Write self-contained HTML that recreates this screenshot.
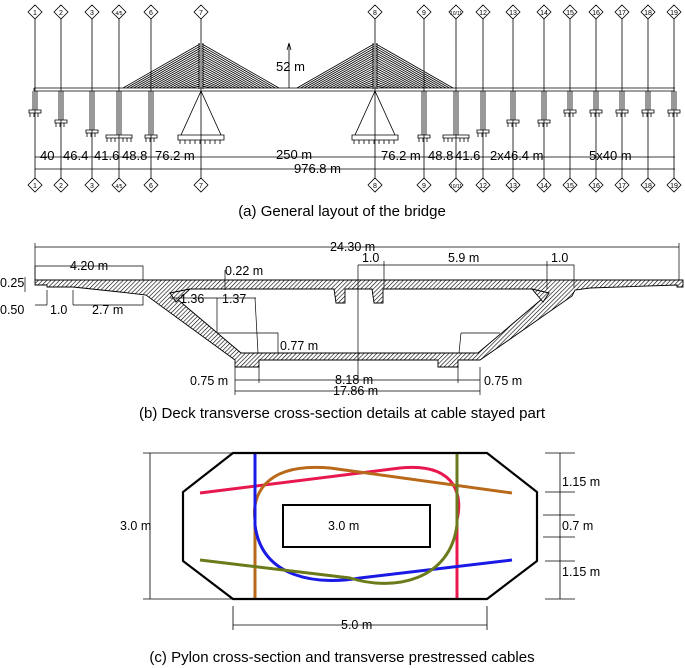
<!DOCTYPE html>
<html><head><meta charset="utf-8"><style>
body{margin:0;background:#fff}
svg{display:block;font-family:"Liberation Sans",sans-serif}
</style></head><body>
<svg id="s" width="685" height="668" viewBox="0 0 685 668" xmlns="http://www.w3.org/2000/svg">
<defs>
<pattern id="h" width="3" height="3" patternUnits="userSpaceOnUse" patternTransform="rotate(45)">
<rect width="3" height="3" fill="#fff"/><line x1="0" y1="0" x2="0" y2="3" stroke="#000" stroke-width="1.2"/></pattern>
</defs>
<g id="a" stroke="#000" fill="none" stroke-width="1"></g>
<g font-size="7" text-anchor="middle" id="dl">
<text x="35" y="15">1</text><text x="61" y="15">2</text><text x="92" y="15">3</text><text x="119" y="15" font-size="5">4/5</text><text x="151" y="15">6</text><text x="201" y="15">7</text><text x="375" y="15">8</text><text x="424" y="15">9</text><text x="456" y="15" font-size="5">10/11</text><text x="483" y="15">12</text><text x="513" y="15">13</text><text x="544" y="15">14</text><text x="570" y="15">15</text><text x="596" y="15">16</text><text x="622" y="15">17</text><text x="648" y="15">18</text><text x="674" y="15">19</text>
<text x="35" y="188">1</text><text x="61" y="188">2</text><text x="92" y="188">3</text><text x="119" y="188" font-size="5">4/5</text><text x="151" y="188">6</text><text x="201" y="188">7</text><text x="375" y="188">8</text><text x="424" y="188">9</text><text x="456" y="188" font-size="5">10/11</text><text x="483" y="188">12</text><text x="513" y="188">13</text><text x="544" y="188">14</text><text x="570" y="188">15</text><text x="596" y="188">16</text><text x="622" y="188">17</text><text x="648" y="188">18</text><text x="674" y="188">19</text>
</g>
<g font-size="13" fill="#000">
<text x="276" y="71">52 m</text>
<text x="40" y="160">40</text><text x="63" y="160">46.4</text><text x="94" y="160">41.6</text><text x="122" y="160">48.8</text><text x="155" y="160">76.2 m</text>
<text x="276" y="159">250 m</text>
<text x="381" y="160">76.2 m</text><text x="428" y="160">48.8</text><text x="455" y="160">41.6</text><text x="490" y="160">2x46.4 m</text><text x="589" y="160">5x40 m</text>
<text x="294" y="173">976.8 m</text>
</g>
<text x="342" y="216" font-size="15" text-anchor="middle">(a) General layout of the bridge</text>

<!-- (b) -->
<g stroke="#000" stroke-width="0.9">
<path d="M35,280 L683,280 L683,287 L677,287 L677,285 L590,288 L575,290 L572,296 L480,360 L458,360 L458,367 L438,367 L438,360 L280,360 L259,360 L259,367 L235,367 L235,360 L146,295 L120,292 L73,287 L47,287 L47,285 L35,285 Z" fill="url(#h)"/>
<path d="M170,293 L241,353 L478,353 L549,293 L532,289 L383,289 L383,303 L374,303 L372,289 L345,289 L345,303 L336,303 L334,289 L190,289 Z" fill="#fff"/>
<path d="M170,293 L176,302 L190,289 Z" fill="url(#h)"/>
<path d="M549,293 L543,302 L532,289 Z" fill="url(#h)"/>
</g>
<g stroke="#000" stroke-width="0.7" fill="none">
<path d="M35,247 L679,247 M35,243 L35,280 M679,243 L679,280"/>
<path d="M35,266 L143,266 L143,280 M35,266 L35,280"/>
<path d="M358,265 L358,380 M358,265 L384,265 M384,261 L384,289 M384,265 L547,265 M547,261 L547,289 M547,265 L574,265 L574,288"/>
<path d="M25,277 L25,292 M47,290 L47,305 M73,290 L73,305 M35,305 L47,305 M73,305 L143,305 L143,296 M225,270 L225,290"/>
<path d="M170,298 L256,298 M217,298 L217,333 M255,298 L258,353 M217,333 L278,333 L278,353"/>
<path d="M461,333 L500,333 M461,333 L459,353"/>
<path d="M235,367 L235,395 M480,367 L480,395 M235,380 L480,380 M259,367 L259,383 M458,367 L458,383 M235,391 L480,391"/>
</g>
<g font-size="12.5" fill="#000">
<text x="330" y="251">24.30 m</text>
<text x="70" y="270">4.20 m</text>
<text x="225" y="275">0.22 m</text>
<text x="362" y="262">1.0</text><text x="448" y="262">5.9 m</text><text x="551" y="262">1.0</text>
<text x="0" y="287">0.25</text>
<text x="0" y="314">0.50</text><text x="50" y="314">1.0</text><text x="92" y="314">2.7 m</text>
<text x="180" y="303">1.36</text><text x="222" y="303">1.37</text>
<text x="280" y="350">0.77 m</text>
<text x="190" y="385">0.75 m</text><text x="484" y="385">0.75 m</text>
<text x="335" y="384">8.18 m</text>
<text x="333" y="395">17.86 m</text>
</g>
<text x="342" y="418" font-size="15" text-anchor="middle">(b) Deck transverse cross-section details at cable stayed part</text>

<!-- (c) -->
<g fill="none" stroke-width="3">
<path d="M200,493 L400,468 C460,462 462,500 457,520 L457,599" stroke="#e8174f"/>
<path d="M512,493 L330,468 C260,462 252,500 255,520 L255,599" stroke="#b86a1a"/>
<path d="M255,453 L255,525 C262,580 320,585 360,578 L512,560" stroke="#1a1ae6"/>
<path d="M457,453 L457,525 C450,580 395,592 350,578 L200,560" stroke="#6b7a1a"/>
</g>
<g fill="none" stroke="#000">
<path d="M233,453 L487,453 L537,492 L537,561 L487,599 L233,599 L183,561 L183,492 Z" stroke-width="2.2"/>
<rect x="283" y="505" width="147" height="42" stroke-width="2"/>
<path d="M150,453 L150,599 M143,453 L233,453 M143,599 L233,599 M233,606 L233,630 M487,606 L487,630 M233,625 L487,625 M545,453 L575,453 M545,492 L575,492 M545,561 L575,561 M545,599 L575,599 M560,453 L560,599 M543,515 L575,515 M543,537 L575,537" stroke-width="0.8"/>
</g>
<g font-size="12.5">
<text x="328" y="530">3.0 m</text>
<text x="120" y="530">3.0 m</text>
<text x="562" y="486">1.15 m</text>
<text x="562" y="530">0.7 m</text>
<text x="562" y="576">1.15 m</text>
<text x="341" y="629">5.0 m</text>
</g>
<text x="342" y="662" font-size="15" text-anchor="middle">(c) Pylon cross-section and transverse prestressed cables</text>
<script>
var g=document.getElementById('a'),NS='http://www.w3.org/2000/svg',d='';
function L(a,b,c,e){d+='M'+a+','+b+'L'+c+','+e;}
var P=[[35,110],[61,120],[92,130],[119,135],[151,135],[424,135],[456,135],[483,130],[513,120],[544,120],[570,110],[596,110],[622,110],[648,110],[674,110]];
var X=[35,61,92,119,151,201,375,424,456,483,513,544,570,596,622,648,674];
X.forEach(function(x){L(x,19,x,178);d+='M'+x+',5L'+(x+7)+',12L'+x+',19L'+(x-7)+',12Z';d+='M'+x+',178L'+(x+7)+',185L'+x+',192L'+(x-7)+',185Z';});
P.forEach(function(p){var x=p[0],y=p[1],w=(x==119||x==456)?13:6;d+='M'+(x-2)+',91L'+(x-2)+','+y+'M'+(x+2)+',91L'+(x+2)+','+y;d+='M'+(x-w)+','+y+'L'+(x+w)+','+y+'L'+(x+w)+','+(y+3)+'L'+(x-w)+','+(y+3)+'Z';for(var k=-w+1;k<=w;k+=4){L(x+k,y+3,x+k,y+7);}});
L(34,88,675,88);L(34,91,675,91);L(34,88,34,91);
[201,375].forEach(function(x){d+='M'+(x-2)+',43L'+(x-2)+',89M'+(x+2)+',43L'+(x+2)+',89';L(x,91,x-20,135);L(x,91,x+20,135);d+='M'+(x-23)+',135L'+(x+23)+',135L'+(x+23)+',140L'+(x-23)+',140Z';for(var k=-21;k<=22;k+=5)L(x+k,140,x+k,144);for(var i=0;i<20;i++){var yy=44+i*2.2;L(x-1,yy,x-78+i*3.6,88);L(x+1,yy,x+78-i*3.6,88);}});
L(289,43,289,88);L(289,43,287,50);L(289,43,291,50);
L(35,157,675,157);L(35,169,675,169);
var e=document.createElementNS(NS,'path');e.setAttribute('d',d);e.setAttribute('stroke-width','0.8');g.appendChild(e);
</script>
</svg>
</body></html>
